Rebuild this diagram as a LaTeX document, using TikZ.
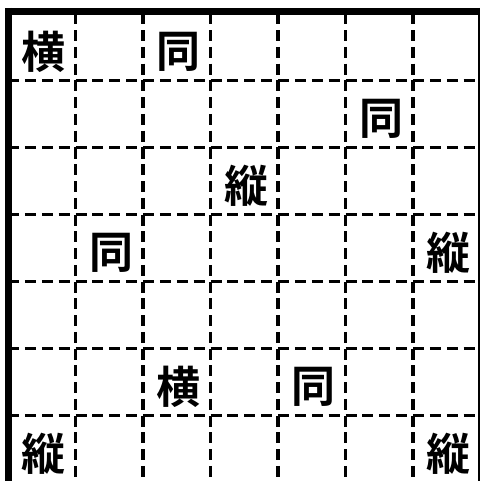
\documentclass[tikz,border=0pt]{standalone}
\usepackage{fontspec}
\newfontfamily\jpfont{Noto Sans CJK JP}[BoldFont={Noto Sans CJK JP Bold}]
\usetikzlibrary{positioning}

\tikzset{
  gridline/.style={line width=3.5pt, dash pattern=on 11pt off 5.875pt},
  rowline/.style={line width=3.5pt, dash pattern=on 11pt off 5.75pt},
  frameline/.style={line width=7pt},
  kanji/.style={font=\jpfont\bfseries\fontsize{44}{44}\selectfont, inner sep=0pt}
}

\begin{document}
\begin{tikzpicture}[x=1pt,y=-1pt]
        \def\w{480}
        \def\h{481}
        \useasboundingbox (0,0) rectangle (\w,\h);
        \fill[white] (0,0) rectangle (\w,\h);
        %Draw dashed grid
        \draw[gridline] (8,80.5) -- (\w,80.5);
        \draw[gridline] (8,147.5) -- (\w,147.5);
        \draw[gridline] (8,214.5) -- (\w,214.5);
        \draw[gridline] (8,281.5) -- (\w,281.5);
        \draw[gridline] (8,348.5) -- (\w,348.5);
        \draw[gridline] (8,415.5) -- (\w,415.5);
        \draw[rowline] (75.5,13.5) -- (75.5,\h);
        \draw[rowline] (143,13.5) -- (143,\h);
        \draw[rowline] (210.5,13.5) -- (210.5,\h);
        \draw[rowline] (278,13.5) -- (278,\h);
        \draw[rowline] (345.5,13.5) -- (345.5,\h);
        \draw[rowline] (413,13.5) -- (413,\h);
        %Draw frame
        \draw[line width=2.5pt] (479,8) -- (479,\h);
        \draw[frameline] (5,11.5) -- (\w,11.5);
        \draw[frameline] (8.5,8) -- (8.5,\h);
        %Draw labels
        \node[kanji] (yoko1) at (43.75,52) {横};
        \node[kanji] (dou1) at (178.75,52) {同};
        \node[kanji] (dou2) at (381.25,119) {同};
        \node[kanji] (tate1) at (246.25,186) {縦};
        \node[kanji] (dou3) at (111.25,253) {同};
        \node[kanji] (tate2) at (448.75,253) {縦};
        \node[kanji] (yoko2) at (178.75,387) {横};
        \node[kanji] (dou4) at (313.75,387) {同};
        \node[kanji] (tate3) at (43.75,454) {縦};
        \node[kanji] (tate4) at (448.75,454) {縦};
      \end{tikzpicture}
\end{document}
